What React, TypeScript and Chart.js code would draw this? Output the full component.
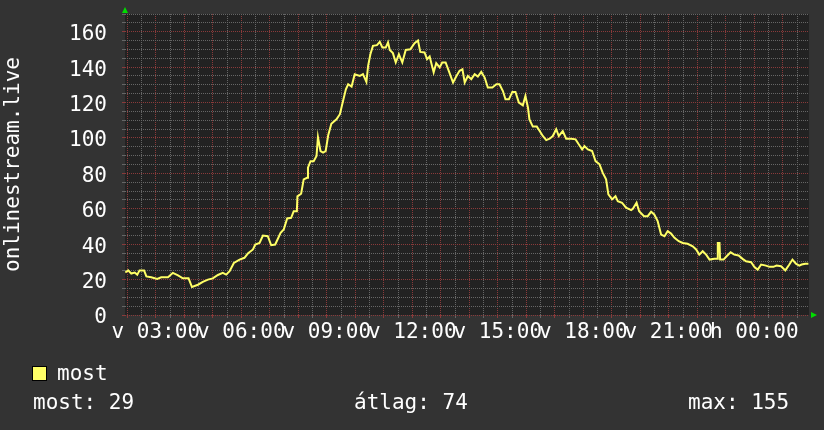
import { useEffect, useRef } from 'react';
import { Chart, registerables } from 'chart.js';

Chart.register(...registerables);

// time of each sample, hours since Sunday 00:00
const times = [
  1.93, 2.03, 2.14, 2.26, 2.35, 2.43, 2.59, 2.67, 2.84, 3.05, 3.19, 3.43, 3.6, 3.78, 3.95, 4.15, 4.27, 4.48, 4.65, 4.83,
  5.0, 5.18, 5.35, 5.47, 5.59, 5.74, 5.94, 6.11, 6.23, 6.41, 6.49, 6.64, 6.76, 6.93, 7.05, 7.19, 7.38, 7.49, 7.61, 7.75,
  7.84, 7.95, 7.97, 8.1, 8.19, 8.31, 8.34, 8.43, 8.54, 8.64, 8.69, 8.78, 8.87, 8.96, 9.05, 9.16, 9.34, 9.46, 9.57, 9.67,
  9.75, 9.87, 9.98, 10.16, 10.27, 10.39, 10.45, 10.53, 10.62, 10.76, 10.86, 10.95, 11.07, 11.15, 11.21, 11.32, 11.42, 11.53, 11.65, 11.77,
  11.93, 12.08, 12.2, 12.28, 12.43, 12.52, 12.61, 12.75, 12.84, 12.96, 13.05, 13.17, 13.28, 13.43, 13.55, 13.66, 13.76, 13.84, 13.95, 14.07,
  14.19, 14.3, 14.42, 14.54, 14.65, 14.81, 14.95, 15.06, 15.18, 15.27, 15.39, 15.51, 15.62, 15.74, 15.88, 15.97, 16.06, 16.11, 16.23, 16.37,
  16.47, 16.58, 16.7, 16.82, 16.93, 17.05, 17.14, 17.28, 17.4, 17.58, 17.73, 17.84, 17.96, 18.04, 18.16, 18.31, 18.43, 18.57, 18.68, 18.8,
  18.88, 19.01, 19.13, 19.21, 19.36, 19.5, 19.68, 19.74, 19.87, 19.96, 20.13, 20.26, 20.38, 20.49, 20.61, 20.73, 20.85, 20.96, 21.08, 21.2,
  21.35, 21.49, 21.66, 21.84, 21.96, 22.07, 22.19, 22.31, 22.43, 22.6, 22.71, 22.72, 22.78, 22.8, 22.92, 23.03, 23.17, 23.3, 23.45, 23.59,
  23.71, 23.89, 24.0, 24.12, 24.24, 24.41, 24.53, 24.67, 24.78, 24.94, 25.09, 25.23, 25.34, 25.46, 25.58, 25.66, 25.79, 25.9,
];

// "most" series values
const values = [
  24, 25.2, 23.4, 24, 22.8, 25.2, 25.2, 21.8, 21.3, 20.4, 21.3, 21.3, 23.8, 22.4, 20.7, 20.7, 15.8, 17.1, 18.7, 20,
  20.7, 22.6, 23.8, 22.8, 24.7, 29.4, 31.3, 32.3, 34.7, 37, 39.8, 40.7, 44.9, 44.5, 39.4, 39.8, 46.4, 48.3, 54.5, 54.9,
  58.6, 58.6, 67, 68.5, 76.6, 77.5, 83.2, 86.9, 86.9, 89.8, 100.5, 92.6, 91.7, 92.6, 101.5, 108, 110.5, 113.4, 120.9, 127.5,
  130.3, 129, 136, 135, 136, 131.6, 140.7, 147.3, 152, 152.4, 154.3, 151.1, 151.1, 154, 149.7, 147.9, 142.6, 147.3, 142.6, 149.7,
  150.1, 153.5, 155, 148.6, 148.3, 144.5, 146, 137, 142.2, 139.8, 142.6, 142.6, 137.9, 131.3, 135, 137.9, 138.8, 131.3, 135, 133.2,
  136, 134.7, 137.3, 134.1, 128.5, 128.5, 130.3, 130.3, 126.5, 121.8, 121.8, 126, 126, 120, 118.4, 123.7, 117.1, 110.5, 106.4, 106.4,
  103.9, 101.1, 98.8, 99.6, 101.1, 104.9, 101.1, 103.9, 99.6, 99.6, 99.2, 96.4, 93.5, 95.4, 93.5, 92.6, 86.9, 85.1, 80.4, 76.6,
  68.1, 65.3, 67.1, 64.3, 63.4, 60.6, 59.2, 60, 63.4, 58.6, 55.8, 55.8, 58.3, 56.8, 53, 45.4, 44.5, 47.3, 46, 43.6,
  41.7, 40.7, 40.2, 38.8, 37, 34.1, 36, 34.1, 31.3, 31.7, 31.7, 40.7, 40.7, 31.3, 31.3, 33.2, 35.4, 34.1, 33.6, 31.7,
  30.3, 29.8, 27.2, 25.6, 28.5, 27.9, 27.2, 27.2, 27.9, 27.5, 25.2, 28.5, 31.3, 29, 27.9, 28.5, 29, 29,
];

const seriesName = 'most';
const yTitle = 'onlinestream.live';
const statTexts = ['most: 29', 'átlag: 74', 'max: 155'];

const xMin = 1.92;
const xMax = 25.92;
const yMin = 0;
const yMax = 170;

const xGridHours = Array.from({ length: 48 }, (_, i) => 2 + i * 0.5);
const xLabelHours = [3, 6, 9, 12, 15, 18, 21, 24];
const xLabelTexts = ['v 03:00', 'v 06:00', 'v 09:00', 'v 12:00', 'v 15:00', 'v 18:00', 'v 21:00', 'h 00:00'];
const yGridValues = Array.from({ length: 35 }, (_, i) => i * 5);
const yLabelValues = [0, 20, 40, 60, 80, 100, 120, 140, 160];

const FONT = 'DejaVu Sans Mono';
const OUTER_BG = '#333333';
const PLOT_BG = '#222222';
const MINOR = '#666666';
const MAJOR = '#8a3a3a';
const LINE = '#ffff66';
const ARROW = '#00dd00';

export default function App() {
  const ref = useRef<HTMLCanvasElement | null>(null);

  useEffect(() => {
    const canvas = ref.current;
    if (!canvas) return;

    const bgPlugin = {
      id: 'rrdBg',
      beforeDraw(chart: any) {
        const { ctx, chartArea: a } = chart;
        ctx.save();
        ctx.fillStyle = OUTER_BG;
        ctx.fillRect(0, 0, chart.width, chart.height);
        ctx.fillStyle = PLOT_BG;
        ctx.fillRect(a.left, a.top, a.right - a.left, a.bottom - a.top);
        ctx.restore();
      },
      afterDraw(chart: any) {
        const { ctx, chartArea: a } = chart;
        ctx.save();
        // axis arrows
        ctx.fillStyle = ARROW;
        ctx.beginPath();
        ctx.moveTo(a.left, a.top - 7);
        ctx.lineTo(a.left - 3, a.top - 1);
        ctx.lineTo(a.left + 3, a.top - 1);
        ctx.closePath();
        ctx.fill();
        ctx.beginPath();
        ctx.moveTo(a.right + 8, a.bottom);
        ctx.lineTo(a.right + 2, a.bottom - 3);
        ctx.lineTo(a.right + 2, a.bottom + 3);
        ctx.closePath();
        ctx.fill();
        // legend
        ctx.fillStyle = LINE;
        ctx.fillRect(32, 366, 15, 15);
        ctx.strokeStyle = '#000000';
        ctx.lineWidth = 1;
        ctx.strokeRect(32.5, 366.5, 14, 14);
        ctx.fillStyle = '#ffffff';
        ctx.font = `21px "${FONT}"`;
        ctx.textBaseline = 'alphabetic';
        ctx.textAlign = 'left';
        ctx.fillText(seriesName, 57, 380);
        ctx.fillText(statTexts[0], 33, 409);
        ctx.fillText(statTexts[1], 354, 409);
        ctx.fillText(statTexts[2], 688, 409);
        ctx.restore();
      },
    };

    const chart = new Chart(canvas, {
      type: 'line',
      data: {
        datasets: [
          {
            label: seriesName,
            data: times.map((t, i) => ({ x: t, y: values[i] })),
            borderColor: LINE,
            backgroundColor: LINE,
            borderWidth: 2,
            pointRadius: 0,
            tension: 0,
            fill: false,
          },
        ],
      },
      options: {
        responsive: false,
        animation: false,
        devicePixelRatio: 1,
        layout: { padding: { left: 0, right: 15, top: 14, bottom: 0 } },
        plugins: { legend: { display: false }, tooltip: { enabled: false } },
        scales: {
          x: {
            type: 'linear',
            min: xMin,
            max: xMax,
            afterFit: (s: any) => {
              s.height = 115;
              s.paddingLeft = 0;
              s.paddingRight = 0;
            },
            afterBuildTicks: (s: any) => {
              s.ticks = xGridHours.map((v) => ({ value: v }));
            },
            ticks: {
              autoSkip: false,
              maxRotation: 0,
              minRotation: 0,
              padding: 2,
              color: '#ffffff',
              font: { family: FONT, size: 21 },
              callback: (v: any) => {
                const i = xLabelHours.findIndex((h) => Math.abs(h - Number(v)) < 1e-6);
                return i >= 0 ? xLabelTexts[i] : '';
              },
            },
            grid: {
              drawTicks: true,
              tickLength: 3,
              lineWidth: 1,
              color: (c: any) => {
                const v = c.tick ? c.tick.value : 0;
                return Math.abs(v - Math.round(v)) < 1e-6 ? MAJOR : MINOR;
              },
            },
            border: { display: false, dash: [1, 1] },
          },
          y: {
            type: 'linear',
            min: yMin,
            max: yMax,
            afterFit: (s: any) => {
              s.width = 125;
              s.paddingTop = 0;
              s.paddingBottom = 0;
            },
            afterBuildTicks: (s: any) => {
              s.ticks = yGridValues.map((v) => ({ value: v }));
            },
            ticks: {
              autoSkip: false,
              padding: 15,
              labelOffset: 3,
              color: '#ffffff',
              font: { family: FONT, size: 21 },
              callback: (v: any) => (yLabelValues.includes(Number(v)) ? String(v) : ''),
            },
            title: {
              display: true,
              text: yTitle,
              color: '#ffffff',
              font: { family: FONT, size: 21 },
              padding: { top: 1, bottom: 0 },
            },
            grid: {
              drawTicks: true,
              tickLength: 3,
              lineWidth: 1,
              color: (c: any) => {
                const v = c.tick ? c.tick.value : 0;
                return v % 20 === 0 ? MAJOR : MINOR;
              },
            },
            border: { display: false, dash: [1, 1] },
          },
        },
      },
      plugins: [bgPlugin],
    });

    return () => chart.destroy();
  }, []);

  return (
    <div style={{ position: 'fixed', left: 0, top: 0, width: 824, height: 430, background: OUTER_BG }}>
      <canvas ref={ref} width={824} height={430} style={{ display: 'block', width: 824, height: 430 }} />
    </div>
  );
}
